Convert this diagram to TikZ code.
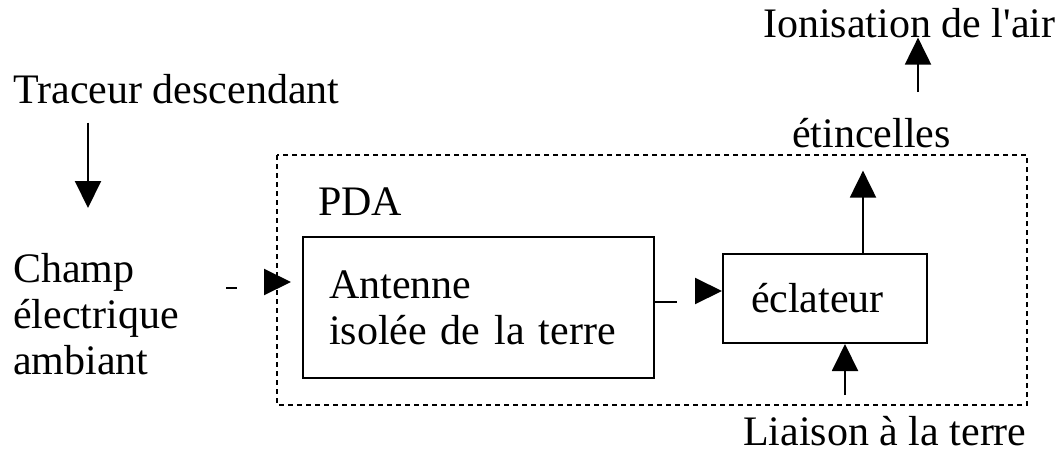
\documentclass[tikz,border=0pt]{standalone}
\usepackage{fontspec}
\setmainfont{Liberation Serif}
\usetikzlibrary{arrows.meta}
\begin{document}
\begin{tikzpicture}[x=1pt,y=-1pt,
  every node/.style={inner sep=0pt, font=\fontsize{42}{46}\selectfont},
  lbl/.style={anchor=base west, align=left},
  blk/.style={draw, line width=2pt, align=left},
  arr/.style={line width=2pt, -{Triangle[length=27pt,width=26pt]}},
  frame/.style={line width=2pt, dash pattern=on 5pt off 4pt}]
\useasboundingbox (0,0) rectangle (1062,458);

% labels outside the device
\node[lbl] (trac) at (13,103) {Traceur descendant};
\node[lbl] (champ) at (13,374) {Champ\\électrique\\ambiant};
\node[lbl] (ion) at (763,37) {Ionisation de l\textquotesingle air};
\node[lbl] (etin) at (792,147) {étincelles};
\node[lbl] (liai) at (743,445) {Liaison à la terre};

% the lightning conductor (PDA) and its parts
\draw[frame] (277,155) rectangle (1027,405);
\node[lbl] (pda) at (318,215) {PDA};
\node[blk, minimum width=351pt, minimum height=141pt, inner xsep=26pt,
      text width=299pt] (ant) at (478.5,307.5) {Antenne\\isolée de la terre};
\node[blk, minimum width=204pt, minimum height=89pt, inner xsep=28pt,
      text width=148pt] (ecl) at (825,298.5) {éclateur};

% free ends of the connectors
\coordinate (t1) at (88,208);
\coordinate (c1) at (226,288);
\coordinate (c2) at (265,282);
\coordinate (a2) at (696,291);
\coordinate (i0) at (918,92);
\coordinate (l0) at (845,395);

% connectors
\draw[arr, shorten <=19pt] (trac.south -| t1) -- (t1);
\draw[arr, shorten >=11pt] (c1) -- ++(11,0) (c2) -- (ant.west |- c2);
\draw[arr] (ant.east |- 0,302) -- ++(22,0) (a2) -- (ecl.west |- a2);
\draw[arr, shorten >=23pt] (ecl.north -| 863,0) -- (etin.south -| 863,0);
\draw[arr] (i0) -- (ion.south -| i0);
\draw[arr] (l0) -- (ecl.south -| l0);
\end{tikzpicture}
\end{document}
